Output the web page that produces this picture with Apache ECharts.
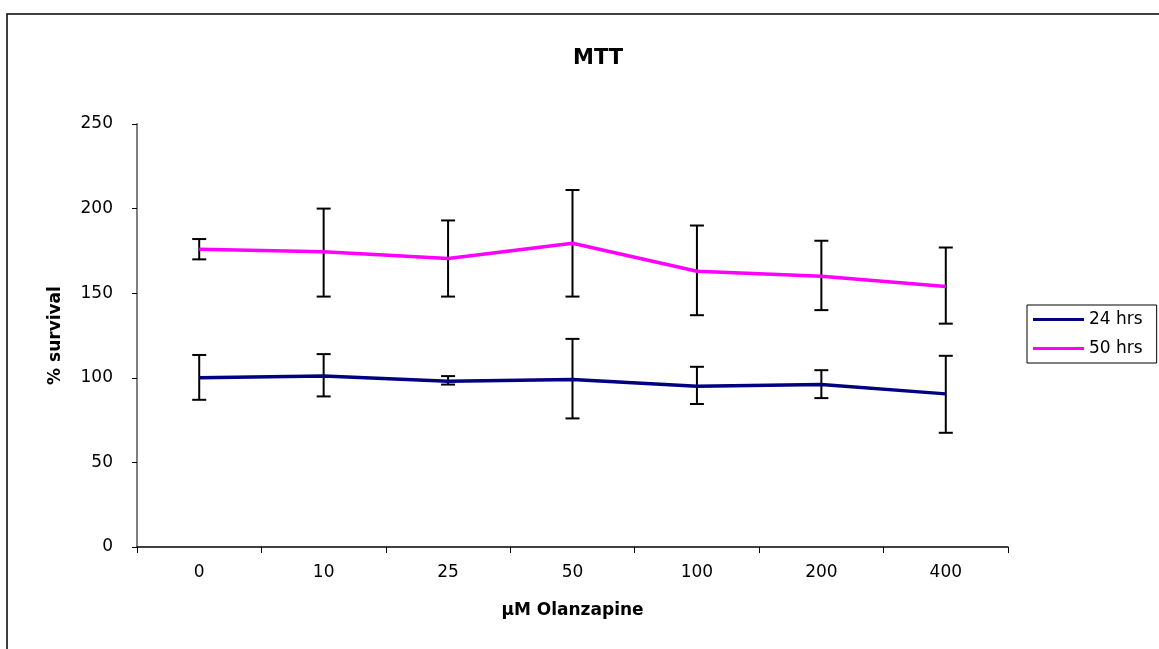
<!DOCTYPE html>
<html>
<head>
<meta charset="utf-8">
<script src="https://cdn.jsdelivr.net/npm/echarts@6/dist/echarts.min.js"></script>
<style>
html,body{margin:0;padding:0;background:#fff;}
#chart{width:1159px;height:649px;}
</style>
</head>
<body>
<div id="chart"></div>
<script>
const categories = ['0', '10', '25', '50', '100', '200', '400'];
const mean24 = [100, 101, 98, 99, 95, 96, 90.5];
const high24 = [113.5, 114, 101, 123, 106.5, 104.5, 113];
const low24  = [87, 89, 96, 76, 84.5, 88, 67.5];
const mean50 = [176, 174.5, 170.5, 179.5, 163, 160, 154];
const high50 = [182, 200, 193, 211, 190, 181, 177];
const low50  = [170, 148, 148, 148, 137, 140, 132];
const yTicks = [0, 50, 100, 150, 200, 250];

const FONT = 'DejaVu Sans';

function errData(lo, hi) {
  return categories.map((c, i) => [i, lo[i], hi[i]]);
}

function renderErr(params, api) {
  const x = api.value(0);
  const lo = api.coord([x, api.value(1)]);
  const hi = api.coord([x, api.value(2)]);
  const half = 7;
  const style = { stroke: '#000', lineWidth: 2 };
  return {
    type: 'group',
    children: [
      { type: 'line', shape: { x1: lo[0], y1: lo[1], x2: hi[0], y2: hi[1] }, style },
      { type: 'line', shape: { x1: hi[0] - half, y1: hi[1], x2: hi[0] + half, y2: hi[1] }, style },
      { type: 'line', shape: { x1: lo[0] - half, y1: lo[1], x2: lo[0] + half, y2: lo[1] }, style }
    ]
  };
}

const chart = echarts.init(document.getElementById('chart'), null, { renderer: 'canvas' });
chart.setOption({
  backgroundColor: '#fff',
  animation: false,
  textStyle: { fontFamily: FONT },
  graphic: [{
    type: 'rect',
    shape: { x: 7, y: 14, width: 1200, height: 700 },
    style: { fill: 'none', stroke: '#000', lineWidth: 1.5 },
    silent: true, z: 0
  }],
  title: {
    text: 'MTT',
    left: 593, top: 43, textAlign: 'center',
    textStyle: { fontFamily: FONT, fontWeight: 'bold', fontSize: 21, color: '#000' }
  },
  legend: {
    orient: 'vertical',
    left: 1027, top: 305,
    borderColor: '#000', borderWidth: 1,
    padding: [6, 14, 6, 6],
    itemWidth: 51, itemHeight: 3, itemGap: 12,
    icon: 'rect',
    data: ['24 hrs', '50 hrs'],
    textStyle: { fontFamily: FONT, fontSize: 17, color: '#000' }
  },
  grid: { left: 137, top: 124, right: 151, bottom: 102, containLabel: false },
  xAxis: {
    type: 'category',
    data: categories,
    boundaryGap: true,
    name: 'µM Olanzapine',
    nameLocation: 'middle',
    nameGap: 55,
    nameTextStyle: { fontFamily: FONT, fontWeight: 'bold', fontSize: 17, color: '#000' },
    axisLine: { lineStyle: { color: '#000', width: 1.5 } },
    axisTick: { show: true, length: 6, interval: 0, lineStyle: { color: '#000' } },
    axisLabel: { fontFamily: FONT, fontSize: 17, color: '#000', margin: 17 },
    splitLine: { show: false }
  },
  yAxis: {
    type: 'value',
    min: 0, max: 250, interval: 50,
    name: '% survival',
    nameLocation: 'middle',
    nameGap: 73,
    nameRotate: 90,
    nameTextStyle: { fontFamily: FONT, fontWeight: 'bold', fontSize: 17, color: '#000' },
    axisLine: { show: true, lineStyle: { color: '#808080', width: 2 } },
    axisTick: { show: true, length: 5, inside: false, lineStyle: { color: '#000' } },
    axisLabel: {
      fontFamily: FONT, fontSize: 17, color: '#000', margin: 24,
      padding: [5, 0, 0, 0],
      formatter: v => (yTicks.includes(v) ? String(v) : '')
    },
    splitLine: { show: false }
  },
  series: [
    {
      name: '24 hrs', type: 'line', data: mean24,
      symbol: 'none', z: 5,
      itemStyle: { color: '#000080' },
      lineStyle: { color: '#000080', width: 3.5 }
    },
    {
      name: '50 hrs', type: 'line', data: mean50,
      symbol: 'none', z: 5,
      itemStyle: { color: '#FF00FF' },
      lineStyle: { color: '#FF00FF', width: 3.5 }
    },
    {
      name: 'err24', type: 'custom', data: errData(low24, high24),
      renderItem: renderErr, z: 3, silent: true,
      encode: { x: 0, y: [1, 2] }
    },
    {
      name: 'err50', type: 'custom', data: errData(low50, high50),
      renderItem: renderErr, z: 3, silent: true,
      encode: { x: 0, y: [1, 2] }
    }
  ]
});
</script>
</body>
</html>
